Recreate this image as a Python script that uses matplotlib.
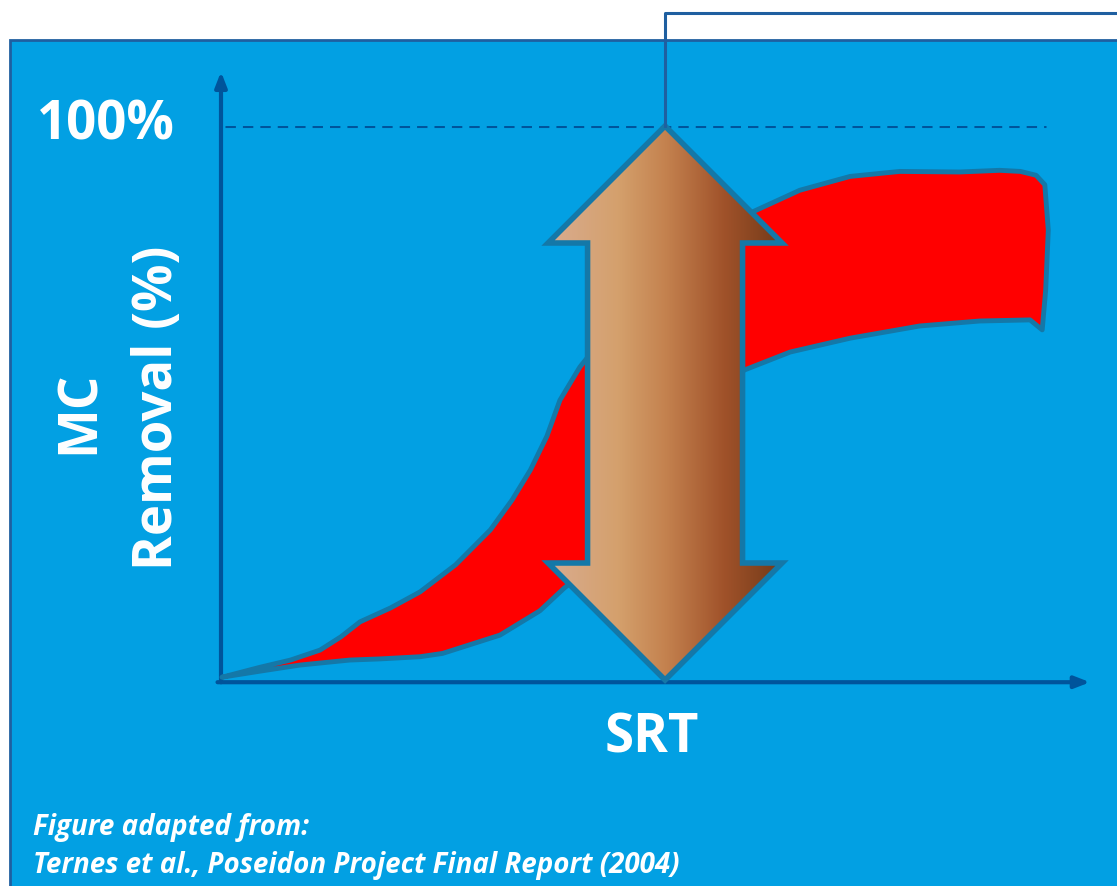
import numpy as np
import matplotlib.pyplot as plt
from matplotlib.patches import Rectangle, Polygon
from matplotlib.colors import LinearSegmentedColormap

plt.switch_backend('agg')
plt.rcParams['font.family'] = ['Open Sans', 'DejaVu Sans']

# Upper and lower edge of the removal band (SRT in arbitrary units, removal in %)
upper_srt = [0.1, 4.5, 8.0, 11.4, 13.8, 16.0, 19.5, 22.9, 27.0, 31.0, 33.5, 35.6, 37.5, 39.0,
             41.3, 43.6, 49.4, 55.1, 60.9, 66.6, 72.4, 78.1, 85.0, 89.6, 92.0, 93.8, 94.8,
             95.2, 94.9, 94.5]
upper_rem = [0.5, 2.3, 3.6, 5.4, 7.8, 10.5, 13.0, 15.9, 20.8, 27.1, 32.5, 37.9, 44.0, 50.5,
             56.5, 61.0, 72.0, 79.5, 84.3, 88.4, 90.9, 91.8, 91.7, 92.0, 91.8, 91.1, 89.4,
             81.2, 70.4, 63.2]
lower_srt = [0.1, 4.5, 9.1, 14.8, 18.2, 22.9, 25.5, 27.5, 32.1, 36.7, 39.5, 43.6, 49.4,
             55.1, 58.0, 60.3, 65.5, 72.4, 80.4, 87.3, 93.1, 94.5]
lower_rem = [0.5, 1.6, 2.7, 3.6, 3.8, 4.2, 4.8, 5.8, 8.1, 12.5, 16.6, 21.7, 37.9,
             50.5, 54.0, 56.0, 59.2, 61.7, 63.9, 64.8, 65.0, 63.2]

# Double arrow marking the SRT range of interest
arrow_srt = 51.1
arrow_span = (0.0, 100.0)

BLUE = '#02A0E3'
BORDER = '#1F5FA0'
AXIS = '#00549B'
OUTLINE = '#1478A8'

fig = plt.figure(figsize=(11.17, 8.86), dpi=100)

# background box
bg = fig.add_axes([0, 0, 1, 1])
bg.set_xlim(0, 1117)
bg.set_ylim(886, 0)
bg.axis('off')
bg.add_patch(Rectangle((10, 40), 1200, 900, facecolor=BLUE, edgecolor=BORDER, lw=2))

# chart area
ax = fig.add_axes([221 / 1117, 1 - 680 / 886, 869 / 1117, 554 / 886])
ax.set_xlim(0, 100)
ax.set_ylim(0, 100)
ax.axis('off')

# axes with arrow heads
ax.annotate('', xy=(0, 109.8), xytext=(0, -0.4),
            arrowprops=dict(arrowstyle='-|>,head_length=0.9,head_width=0.35',
                            lw=3.0, color=AXIS, shrinkA=0, shrinkB=0), annotation_clip=False)
ax.annotate('', xy=(100, -0.4), xytext=(-0.4, -0.4),
            arrowprops=dict(arrowstyle='-|>,head_length=0.9,head_width=0.35',
                            lw=3.0, color=AXIS, shrinkA=0, shrinkB=0), annotation_clip=False)
ax.plot([0.5, 94.9], [100, 100], color=AXIS, lw=2.2, ls=(0, (3.4, 2.3)))

# removal band
band_x = np.concatenate([upper_srt, lower_srt[::-1]])
band_y = np.concatenate([upper_rem, lower_rem[::-1]])
ax.fill(band_x, band_y, facecolor='red', edgecolor=OUTLINE, lw=3.5, joinstyle='round',
        zorder=3, clip_on=False)

# double arrow with brown gradient
px_x = 8.69   # pixels per SRT unit
px_y = 5.54   # pixels per % unit
head_hw = 117 / px_x
shaft_hw = 77.5 / px_x
head_len = 117 / px_y
lo, hi = arrow_span
cx = arrow_srt
arrow_pts = [(cx, hi), (cx + head_hw, hi - head_len), (cx + shaft_hw, hi - head_len),
             (cx + shaft_hw, lo + head_len), (cx + head_hw, lo + head_len), (cx, lo),
             (cx - head_hw, lo + head_len), (cx - shaft_hw, lo + head_len),
             (cx - shaft_hw, hi - head_len), (cx - head_hw, hi - head_len)]
clip = Polygon(arrow_pts, closed=True, facecolor='none', edgecolor='none',
               transform=ax.transData)
ax.add_patch(clip)
brown = LinearSegmentedColormap.from_list('brown', [
    (0.0, '#D9AC90'), (0.3, '#D4A06C'), (0.5, '#C4824F'), (0.75, '#A0522A'), (1.0, '#733A18')])
grad = ax.imshow(np.linspace(0, 1, 256)[None, :], cmap=brown, aspect='auto',
                 extent=[cx - head_hw, cx + head_hw, lo, hi], zorder=4, interpolation='bicubic')
grad.set_clip_path(clip)
ax.add_patch(Polygon(arrow_pts, closed=True, facecolor='none', edgecolor=OUTLINE,
                     lw=4, joinstyle='miter', zorder=5, clip_on=False))
ax.set_xlim(0, 100)
ax.set_ylim(0, 100)

# connector line leaving the arrow tip
ax.plot([cx, cx, 115], [hi, 120.4, 120.4], color=BORDER, lw=2.2, clip_on=False, zorder=6)

# labels
lab = dict(color='white', fontsize=38, fontweight='bold', ha='center', va='center',
           clip_on=False)
ax.text(-13.2, 100, '100%', **lab)
ax.text(-16.2, 48.4, 'MC', rotation=90, **lab)
ax.text(-7.2, 49.1, 'Removal (%)', rotation=90, **lab)
ax.text(49.6, -10.5, 'SRT', **lab)

foot = dict(color='white', fontsize=20, fontweight='bold', fontstyle='italic',
            ha='left', va='center')
fig.text(33 / 1117, 1 - 828 / 886, 'Figure adapted from:', **foot)
fig.text(33 / 1117, 1 - 866 / 886, 'Ternes et al., Poseidon Project Final Report (2004)', **foot)

fig.savefig('out.png', dpi=100, facecolor='white')
